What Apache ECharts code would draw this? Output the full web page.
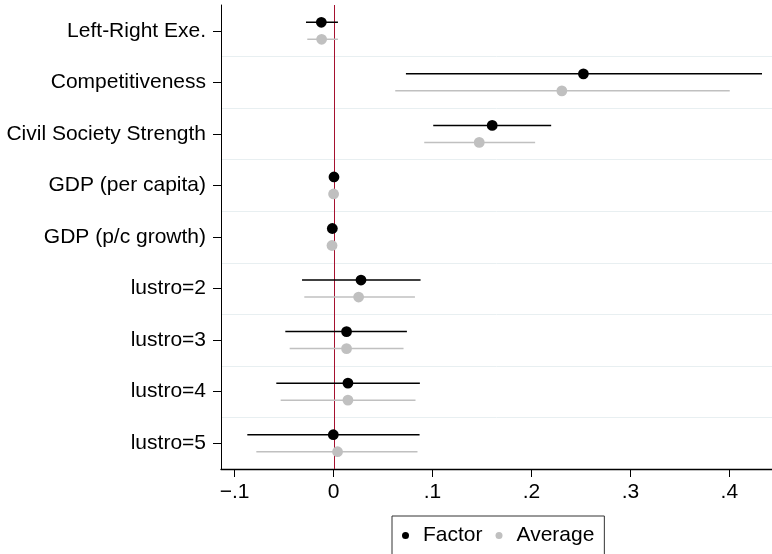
<!DOCTYPE html>
<html>
<head>
<meta charset="utf-8">
<script src="https://cdn.jsdelivr.net/npm/echarts@6/dist/echarts.min.js"></script>
<style>html,body{margin:0;padding:0;background:#fff;}#c{width:772px;height:554px;}</style>
</head>
<body>
<div id="c"></div>
<script>
const categories = ["Left-Right Exe.", "Competitiveness", "Civil Society Strength", "GDP (per capita)", "GDP (p/c growth)", "lustro=2", "lustro=3", "lustro=4", "lustro=5"];
const factorEst = [-0.0124, 0.2525, 0.1603, 0.0004, -0.0013, 0.0277, 0.0131, 0.0145, -0.0003];
const factorLo  = [-0.0279, 0.0731, 0.1007, -0.0006, -0.0023, -0.0319, -0.0488, -0.0579, -0.0872];
const factorHi  = [0.0044, 0.4330, 0.2199, 0.0014, -0.0003, 0.0879, 0.0741, 0.0872, 0.0869];
const averageEst = [-0.0121, 0.2307, 0.1472, 0.0000, -0.0016, 0.0253, 0.0131, 0.0145, 0.0040];
const averageLo  = [-0.0266, 0.0623, 0.0916, -0.0010, -0.0026, -0.0296, -0.0444, -0.0535, -0.0781];
const averageHi  = [0.0044, 0.4004, 0.2037, 0.0010, -0.0006, 0.0822, 0.0707, 0.0828, 0.0848];
const xTicks = [-0.1, 0, 0.1, 0.2, 0.3, 0.4];
const refLine = [0];

const FONT = "'Liberation Sans', Arial, Helvetica, sans-serif";
function build(est, lo, hi) {
  return categories.map((c, i) => [i, est[i], lo[i], hi[i]]);
}
function makeRender(offset, color, lw, r) {
  return function (params, api) {
    const ci = api.value(0);
    const p = api.coord([api.value(1), ci]);
    const a = api.coord([api.value(2), ci]);
    const b = api.coord([api.value(3), ci]);
    const y = p[1] + offset;
    return {
      type: 'group',
      children: [
        { type: 'line', shape: { x1: a[0], y1: y, x2: b[0], y2: y }, style: { stroke: color, lineWidth: lw } },
        { type: 'circle', shape: { cx: p[0], cy: y, r: r }, style: { fill: color } }
      ]
    };
  };
}
function renderRef(params, api) {
  const cs = params.coordSys;
  const x = Math.round(api.coord([api.value(0), 0])[0]) + 0.5;
  return { type: 'line', shape: { x1: x, y1: cs.y, x2: x, y2: cs.y + cs.height }, style: { stroke: '#a5112f', lineWidth: 1 } };
}
function fmt(v) {
  if (Math.abs(v) < 1e-9) return '0';
  const s = (Math.round(Math.abs(v) * 10) / 10).toString().replace(/^0/, '');
  return (v < 0 ? '\u2212' : '') + s;
}
const chart = echarts.init(document.getElementById('c'), null, { renderer: 'canvas' });
chart.setOption({
  animation: false,
  backgroundColor: '#ffffff',
  grid: { left: 221, right: 0, top: 5, bottom: 85, containLabel: false, outerBoundsMode: 'none' },
  legend: {
    left: 392, top: 516,
    orient: 'horizontal',
    data: ['Factor', 'Average'],
    icon: 'circle',
    itemWidth: 7, itemHeight: 7, itemGap: 13,
    padding: [9, 10, 20, 10],
    borderColor: '#333333', borderWidth: 1,
    textStyle: { fontFamily: FONT, fontSize: 21, color: '#000', padding: [0, 0, 0, 9] }
  },
  xAxis: {
    type: 'value',
    min: -0.1138, max: 0.4431,
    axisLine: { show: true, onZero: false, lineStyle: { color: '#000', width: 1.3 } },
    axisTick: { show: true, length: 8, customValues: xTicks, lineStyle: { color: '#000' } },
    axisLabel: { show: true, customValues: xTicks, formatter: fmt, margin: 13, fontFamily: FONT, fontSize: 21, color: '#000' },
    splitLine: { show: false }
  },
  yAxis: {
    type: 'category',
    data: categories,
    inverse: true,
    axisLine: { show: true, onZero: false, lineStyle: { color: '#000', width: 1 } },
    axisTick: { show: true, alignWithLabel: true, length: 8, lineStyle: { color: '#000' } },
    axisLabel: { margin: 15, fontFamily: FONT, fontSize: 21, color: '#000' },
    splitLine: { show: true, lineStyle: { color: '#e8eff1', width: 1 }, interval: function (i) { return i > 0; } }
  },
  series: [
    {
      type: 'custom', name: 'zero', z: 1, silent: true,
      encode: { x: 0, y: 1 },
      renderItem: renderRef,
      data: refLine.map(v => [v, 0])
    },
    {
      type: 'custom', name: 'Factor', z: 3,
      itemStyle: { color: '#000000' },
      encode: { x: [1, 2, 3], y: 0 },
      renderItem: makeRender(-8.5, '#000000', 1.5, 5.4),
      data: build(factorEst, factorLo, factorHi)
    },
    {
      type: 'custom', name: 'Average', z: 2,
      itemStyle: { color: '#c0c0c0' },
      encode: { x: [1, 2, 3], y: 0 },
      renderItem: makeRender(8.5, '#c0c0c0', 1.5, 5.4),
      data: build(averageEst, averageLo, averageHi)
    }
  ]
});
</script>
</body>
</html>
